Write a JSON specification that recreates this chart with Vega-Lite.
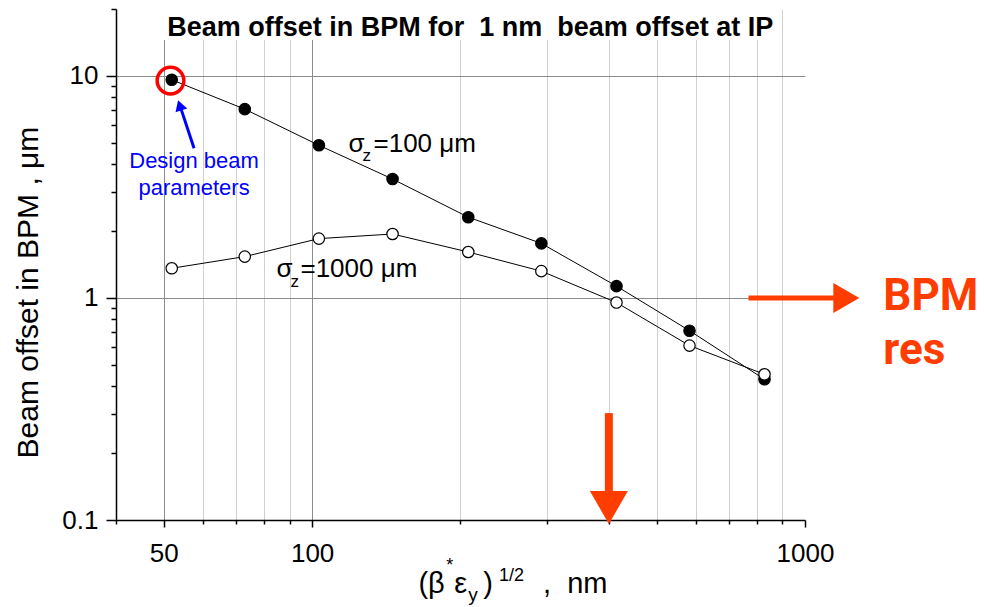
{
  "$schema": "https://vega.github.io/schema/vega-lite/v6.json",
  "width": 689,
  "height": 511,
  "autosize": {"type": "none"},
  "padding": {"left": 116, "top": 9, "right": 179, "bottom": 87},
  "background": "white",
  "config": {"view": {"stroke": null}, "text": {"font": "Liberation Sans", "color": "black"}},
  "data": {"values": [
    {"x": 51.9, "y": 9.6, "s": "100"},
    {"x": 73.0, "y": 7.08, "s": "100"},
    {"x": 103.2, "y": 4.87, "s": "100"},
    {"x": 145.6, "y": 3.43, "s": "100"},
    {"x": 207.4, "y": 2.31, "s": "100"},
    {"x": 291.8, "y": 1.76, "s": "100"},
    {"x": 414.5, "y": 1.13, "s": "100"},
    {"x": 583, "y": 0.712, "s": "100"},
    {"x": 827.6, "y": 0.43, "s": "100"},
    {"x": 51.9, "y": 1.36, "s": "1000"},
    {"x": 73.0, "y": 1.535, "s": "1000"},
    {"x": 103.2, "y": 1.85, "s": "1000"},
    {"x": 145.6, "y": 1.94, "s": "1000"},
    {"x": 207.4, "y": 1.61, "s": "1000"},
    {"x": 291.8, "y": 1.32, "s": "1000"},
    {"x": 414.5, "y": 0.953, "s": "1000"},
    {"x": 583, "y": 0.61, "s": "1000"},
    {"x": 827.6, "y": 0.453, "s": "1000"}
  ]},
  "layer": [
    {
      "mark": {"type": "line", "color": "black", "strokeWidth": 1},
      "encoding": {
        "x": {"field": "x", "type": "quantitative",
          "scale": {"type": "log", "domain": [40, 1000], "nice": false},
          "axis": {
            "values": [40, 50, 60, 70, 80, 90, 100, 200, 300, 400, 500, 600, 700, 800, 900, 1000],
            "format": "~g",
            "labelExpr": "(datum.value==50||datum.value==100||datum.value==1000)?datum.label:''",
            "labelOverlap": false, "labelFlush": false,
            "labelFontSize": 26, "labelFont": "Liberation Sans", "labelColor": "black", "labelPadding": 13,
            "tickSize": {"condition": {"test": "datum.value==50||datum.value==100||datum.value==1000", "value": 7}, "value": 4},
            "tickColor": "black", "tickWidth": 1.5, "domainColor": "black", "domainWidth": 1.5,
            "grid": true,
            "gridColor": {"condition": {"test": "datum.value==50||datum.value==100", "value": "#8c8c8c"}, "value": "#d0d0d0"},
            "gridOpacity": {"condition": {"test": "datum.value==40||datum.value==1000", "value": 0}, "value": 1},
            "title": null
          }},
        "y": {"field": "y", "type": "quantitative",
          "scale": {"type": "log", "domain": [0.1, 20], "nice": false},
          "axis": {
            "values": [0.1, 0.2, 0.3, 0.4, 0.5, 0.6, 0.7, 0.8, 0.9, 1, 2, 3, 4, 5, 6, 7, 8, 9, 10, 20],
            "format": "~g",
            "labelExpr": "(datum.value==0.1||datum.value==1||datum.value==10)?datum.label:''",
            "labelOverlap": false, "labelFlush": false,
            "labelFontSize": 26, "labelFont": "Liberation Sans", "labelColor": "black", "labelPadding": 8,
            "tickSize": {"condition": {"test": "datum.value==0.1||datum.value==1||datum.value==10", "value": 10}, "value": 5},
            "tickColor": "black", "tickWidth": 1.5, "domainColor": "black", "domainWidth": 1.5,
            "grid": true,
            "gridColor": "#8c8c8c",
            "gridOpacity": {"condition": {"test": "datum.value==1||datum.value==10", "value": 1}, "value": 0},
            "title": "Beam offset in BPM   ,  μm",
            "titleFont": "Liberation Sans", "titleFontSize": 30, "titleFontWeight": "normal", "titleColor": "black",
            "titleX": -79, "titleY": 449, "titleAngle": 270, "titleAlign": "left", "titleBaseline": "alphabetic"
          }},
        "detail": {"field": "s"}
      }
    },
    {
      "data": {"values": [{}]},
      "mark": {"type": "rect", "fill": "white"},
      "encoding": {
        "x": {"datum": 41, "type": "quantitative"}, "x2": {"datum": 880},
        "y": {"datum": 20, "type": "quantitative"}, "y2": {"datum": 14.5}
      }
    },
    {
      "mark": {"type": "circle", "size": 130, "stroke": "black", "strokeWidth": 1.2, "opacity": 1},
      "encoding": {
        "x": {"field": "x", "type": "quantitative"},
        "y": {"field": "y", "type": "quantitative"},
        "fill": {"field": "s", "type": "nominal", "scale": {"domain": ["100", "1000"], "range": ["black", "white"]}, "legend": null}
      }
    },
    {
      "data": {"values": [{}]},
      "mark": {"type": "text", "fontSize": 27, "fontWeight": "bold", "align": "center", "baseline": "alphabetic"},
      "encoding": {"x": {"datum": 209.3, "type": "quantitative"}, "y": {"datum": 15.19, "type": "quantitative"},
        "text": {"value": "Beam offset in BPM for\u00a0\u00a01 nm\u00a0\u00a0beam offset at IP"}}
    },
    {
      "data": {"values": [{}]},
      "mark": {"type": "point", "shape": "circle", "filled": false, "stroke": "#ff0000", "strokeWidth": 3.5, "size": 713, "opacity": 1},
      "encoding": {"x": {"datum": 51.6, "type": "quantitative"}, "y": {"datum": 9.52, "type": "quantitative"}}
    },
    {
      "data": {"values": [{}]},
      "mark": {"type": "rule", "color": "#0000ff", "strokeWidth": 3},
      "encoding": {"x": {"datum": 57.6, "type": "quantitative"}, "y": {"datum": 4.725, "type": "quantitative"},
        "x2": {"datum": 54.2}, "y2": {"datum": 7.1}}
    },
    {
      "data": {"values": [{}]},
      "mark": {"type": "point", "shape": "triangle-up", "filled": true, "color": "#0000ff", "size": 150, "angle": 342, "opacity": 1},
      "encoding": {"x": {"datum": 53.87, "type": "quantitative"}, "y": {"datum": 7.36, "type": "quantitative"}}
    },
    {
      "data": {"values": [{}]},
      "mark": {"type": "text", "fontSize": 22, "color": "#0000ff", "align": "center", "baseline": "alphabetic", "lineBreak": "\n", "lineHeight": 27},
      "encoding": {"x": {"datum": 57.6, "type": "quantitative"}, "y": {"datum": 3.85, "type": "quantitative"},
        "text": {"value": "Design beam\nparameters"}}
    },
    {
      "data": {"values": [{}]},
      "mark": {"type": "text", "fontSize": 26, "align": "left", "baseline": "alphabetic"},
      "encoding": {"x": {"datum": 118.5, "type": "quantitative"}, "y": {"datum": 4.56, "type": "quantitative"}, "text": {"value": "σ"}}
    },
    {
      "data": {"values": [{}]},
      "mark": {"type": "text", "fontSize": 17, "align": "left", "baseline": "alphabetic"},
      "encoding": {"x": {"datum": 126.5, "type": "quantitative"}, "y": {"datum": 4.14, "type": "quantitative"}, "text": {"value": "z"}}
    },
    {
      "data": {"values": [{}]},
      "mark": {"type": "text", "fontSize": 26, "align": "left", "baseline": "alphabetic"},
      "encoding": {"x": {"datum": 133.2, "type": "quantitative"}, "y": {"datum": 4.56, "type": "quantitative"}, "text": {"value": "=100 μm"}}
    },
    {
      "data": {"values": [{}]},
      "mark": {"type": "text", "fontSize": 26, "align": "left", "baseline": "alphabetic"},
      "encoding": {"x": {"datum": 84.7, "type": "quantitative"}, "y": {"datum": 1.243, "type": "quantitative"}, "text": {"value": "σ"}}
    },
    {
      "data": {"values": [{}]},
      "mark": {"type": "text", "fontSize": 17, "align": "left", "baseline": "alphabetic"},
      "encoding": {"x": {"datum": 90.4, "type": "quantitative"}, "y": {"datum": 1.121, "type": "quantitative"}, "text": {"value": "z"}}
    },
    {
      "data": {"values": [{}]},
      "mark": {"type": "text", "fontSize": 26, "align": "left", "baseline": "alphabetic"},
      "encoding": {"x": {"datum": 94.7, "type": "quantitative"}, "y": {"datum": 1.243, "type": "quantitative"}, "text": {"value": "=1000 μm"}}
    },
    {
      "data": {"values": [{}]},
      "mark": {"type": "rule", "color": "#ff3d00", "strokeWidth": 5},
      "encoding": {"x": {"datum": 768, "type": "quantitative"}, "x2": {"datum": 1168}, "y": {"datum": 1, "type": "quantitative"}}
    },
    {
      "data": {"values": [{}]},
      "mark": {"type": "point", "shape": "triangle-right", "filled": true, "color": "#ff3d00", "size": 900, "opacity": 1},
      "encoding": {"x": {"datum": 1213, "type": "quantitative"}, "y": {"datum": 1, "type": "quantitative"}}
    },
    {
      "data": {"values": [{}]},
      "mark": {"type": "rule", "color": "#ff3d00", "strokeWidth": 8},
      "encoding": {"x": {"datum": 400, "type": "quantitative"}, "y": {"datum": 0.303, "type": "quantitative"}, "y2": {"datum": 0.13}}
    },
    {
      "data": {"values": [{}]},
      "mark": {"type": "point", "shape": "triangle-down", "filled": true, "color": "#ff3d00", "size": 1444, "opacity": 1},
      "encoding": {"x": {"datum": 400, "type": "quantitative"}, "y": {"datum": 0.1138, "type": "quantitative"}}
    },
    {
      "data": {"values": [{}]},
      "mark": {"type": "text", "font": "Roboto", "fontSize": 44, "fontWeight": "bold", "color": "#ff3d00", "align": "left", "baseline": "alphabetic"},
      "encoding": {"x": {"datum": 1441.7, "type": "quantitative"}, "y": {"datum": 0.883, "type": "quantitative"}, "text": {"value": "BPM"}}
    },
    {
      "data": {"values": [{}]},
      "mark": {"type": "text", "font": "Roboto", "fontSize": 44, "fontWeight": "bold", "color": "#ff3d00", "align": "left", "baseline": "alphabetic"},
      "encoding": {"x": {"datum": 1441.7, "type": "quantitative"}, "y": {"datum": 0.504, "type": "quantitative"}, "text": {"value": "res"}}
    },
    {
      "data": {"values": [{}]},
      "mark": {"type": "text", "fontSize": 29, "align": "left", "baseline": "alphabetic"},
      "encoding": {"x": {"datum": 164.3, "type": "quantitative"}, "y": {"datum": 0.0469, "type": "quantitative"}, "text": {"value": "(β"}}
    },
    {
      "data": {"values": [{}]},
      "mark": {"type": "text", "fontSize": 18, "align": "left", "baseline": "alphabetic"},
      "encoding": {"x": {"datum": 187.1, "type": "quantitative"}, "y": {"datum": 0.0589, "type": "quantitative"}, "text": {"value": "*"}}
    },
    {
      "data": {"values": [{}]},
      "mark": {"type": "text", "fontSize": 29, "align": "left", "baseline": "alphabetic"},
      "encoding": {"x": {"datum": 194.3, "type": "quantitative"}, "y": {"datum": 0.0469, "type": "quantitative"}, "text": {"value": "ε"}}
    },
    {
      "data": {"values": [{}]},
      "mark": {"type": "text", "fontSize": 19, "align": "left", "baseline": "alphabetic"},
      "encoding": {"x": {"datum": 207.4, "type": "quantitative"}, "y": {"datum": 0.04316, "type": "quantitative"}, "text": {"value": "y"}}
    },
    {
      "data": {"values": [{}]},
      "mark": {"type": "text", "fontSize": 29, "align": "left", "baseline": "alphabetic"},
      "encoding": {"x": {"datum": 222.3, "type": "quantitative"}, "y": {"datum": 0.0469, "type": "quantitative"}, "text": {"value": ")"}}
    },
    {
      "data": {"values": [{}]},
      "mark": {"type": "text", "fontSize": 18, "align": "left", "baseline": "alphabetic"},
      "encoding": {"x": {"datum": 239.5, "type": "quantitative"}, "y": {"datum": 0.0531, "type": "quantitative"}, "text": {"value": "1/2"}}
    },
    {
      "data": {"values": [{}]},
      "mark": {"type": "text", "fontSize": 29, "align": "left", "baseline": "alphabetic"},
      "encoding": {"x": {"datum": 294.1, "type": "quantitative"}, "y": {"datum": 0.0469, "type": "quantitative"}, "text": {"value": ",\u00a0\u00a0nm"}}
    }
  ]
}
